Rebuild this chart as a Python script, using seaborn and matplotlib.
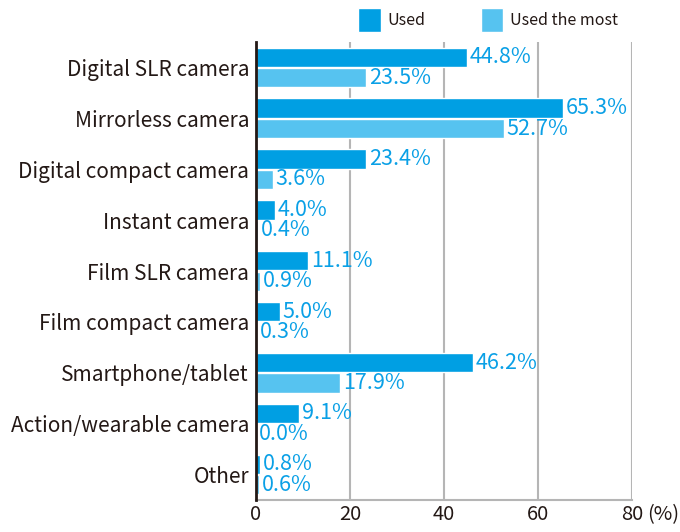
import pandas as pd
import matplotlib
matplotlib.use("Agg")
import matplotlib.pyplot as plt
import seaborn as sns
from matplotlib.patches import Patch

categories = ["Digital SLR camera", "Mirrorless camera", "Digital compact camera",
              "Instant camera", "Film SLR camera", "Film compact camera",
              "Smartphone/tablet", "Action/wearable camera", "Other"]
used = [44.8, 65.3, 23.4, 4.0, 11.1, 5.0, 46.2, 9.1, 0.8]
used_most = [23.5, 52.7, 3.6, 0.4, 0.9, 0.3, 17.9, 0.0, 0.6]
series = ["Used", "Used the most"]
x_ticks = [0, 20, 40, 60, 80]

df = pd.DataFrame({
    "category": categories * 2,
    "series": [series[0]] * len(categories) + [series[1]] * len(categories),
    "value": used + used_most,
})

sns.set_style("white")
plt.rcParams["font.family"] = ["Noto Sans CJK JP", "DejaVu Sans"]

dark = "#009fe3"
light = "#56c3f0"
txt_blue = "#0aa0e6"
txt = "#231815"

fig = plt.figure(figsize=(6.8, 5.32), dpi=100)
ax = fig.add_axes([256 / 680, 1 - 500 / 532, (632 - 256) / 680, (500 - 42) / 532])

sns.barplot(data=df, y="category", x="value", hue="series", orient="h",
            palette=[dark, light], width=0.8, gap=0.05, ax=ax, legend=False,
            saturation=1)

# value labels next to each bar
for cont in ax.containers:
    ax.bar_label(cont, fmt="%.1f%%", padding=2, color=txt_blue, fontsize=15.5)

ax.set_xlim(0, 80)
ax.set_ylim(8.5, -0.5)
ax.set_xticks(x_ticks)
ax.set_xticklabels([str(t) for t in x_ticks], fontsize=14.5, color=txt)
ax.tick_params(axis="y", labelsize=15, labelcolor=txt, length=0, pad=5)
ax.tick_params(axis="x", length=0, pad=3)
ax.set_xlabel("")
ax.set_ylabel("")
ax.xaxis.grid(True, color="#b5b5b5", linewidth=1.5)
ax.set_axisbelow(True)
for s in ["top", "right"]:
    ax.spines[s].set_visible(False)
ax.spines["left"].set_color("#231815")
ax.spines["left"].set_linewidth(2)
ax.spines["left"].set_zorder(5)
ax.spines["bottom"].set_color("#b5b5b5")
ax.spines["bottom"].set_linewidth(1.5)

ax.annotate("(%)", xy=(80, 0), xycoords=("data", "axes fraction"),
            xytext=(11, -3), textcoords="offset points", fontsize=14.5,
            color=txt, ha="left", va="top", annotation_clip=False)

handles = [Patch(facecolor=dark), Patch(facecolor=light)]
fig.legend(handles, series, loc="center", bbox_to_anchor=(488 / 680, 1 - 20 / 532),
           ncol=2, frameon=False, fontsize=11.5, handlelength=1.4, handleheight=1.9,
           handletextpad=0.4, columnspacing=3.5, labelcolor=txt)

fig.savefig("out.png", dpi=100)
